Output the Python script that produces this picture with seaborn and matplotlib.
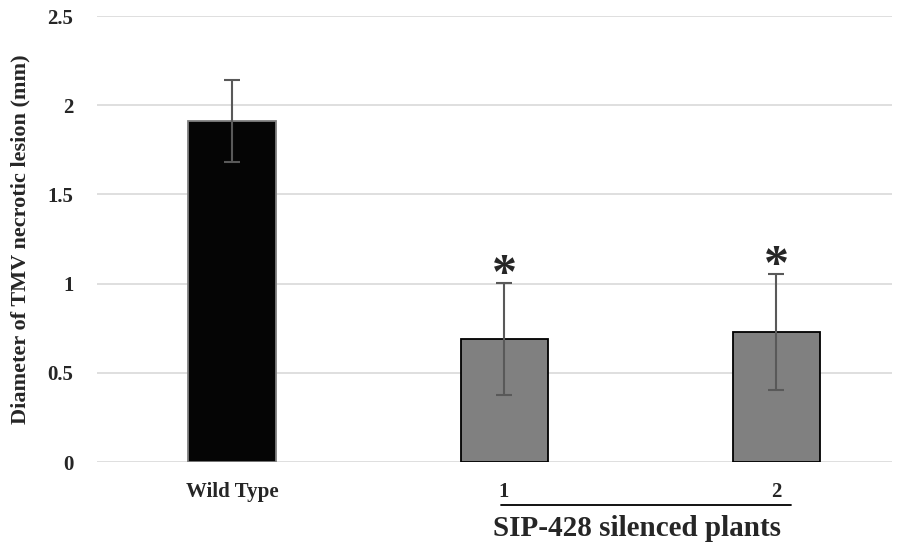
import matplotlib
matplotlib.use('Agg')
import matplotlib.pyplot as plt
import matplotlib.transforms as mtransforms
import pandas as pd
import seaborn as sns

# Data
groups = ['Wild Type', '1', '2']
means = [1.91, 0.69, 0.73]
errors = [0.23, 0.315, 0.325]
significant = [False, True, True]

df = pd.DataFrame({'group': groups, 'diameter': means})

sns.set_style('white')
plt.rcParams['font.family'] = ['Liberation Serif', 'DejaVu Serif']
plt.rcParams['font.weight'] = 'bold'

fig = plt.figure(figsize=(9.01, 5.45), dpi=100)
ax = fig.add_axes([0.1077, 0.152, 0.8823, 0.8186])

sns.barplot(data=df, x='group', y='diameter', hue='group',
            palette=['#050505', '#808080', '#808080'],
            width=0.32, errorbar=None, legend=False, ax=ax, zorder=3)

edges = ['#7f7f7f', '#000000', '#000000']
for patch, ec in zip(ax.patches, edges):
    patch.set_edgecolor(ec)
    patch.set_linewidth(1.3)

ax.errorbar(range(len(groups)), means, yerr=errors, fmt='none',
            ecolor='#595959', elinewidth=1.5, capsize=6, capthick=1.5, zorder=4)

for i, (m, e, s) in enumerate(zip(means, errors, significant)):
    if s:
        ax.text(i, m + e - 0.09, '*', ha='center', va='bottom',
                fontsize=36, fontweight='bold', zorder=5)

ax.set_ylim(0, 2.5)
ax.set_yticks([0, 0.5, 1, 1.5, 2, 2.5])
ax.set_yticklabels(['0', '0.5', '1', '1.5', '2', '2.5'])
ax.set_xlim(-0.496, 2.426)
ax.yaxis.grid(True, color='#d9d9d9', linewidth=1.2, zorder=0)
ax.set_axisbelow(True)
for sp in ax.spines.values():
    sp.set_visible(False)

ax.tick_params(axis='y', length=0, pad=17, labelsize=15)
ax.tick_params(axis='x', length=0, pad=14, labelsize=15)
for lbl in ax.get_xticklabels() + ax.get_yticklabels():
    lbl.set_fontweight('bold')

ax.set_xlabel('')
ax.set_ylabel('Diameter of TMV necrotic lesion (mm)', fontsize=16,
              fontweight='bold', labelpad=12)

# group bracket under silenced plants
trans = mtransforms.blended_transform_factory(ax.transData, ax.transAxes)
ax.plot([0.99, 2.055], [-0.096, -0.096], color='black', linewidth=1.3,
        transform=trans, clip_on=False)
ax.text(1.49, -0.119, 'SIP-428 silenced plants', transform=trans,
        ha='center', va='top', fontsize=21, fontweight='bold')

fig.savefig('out.png', dpi=100)
